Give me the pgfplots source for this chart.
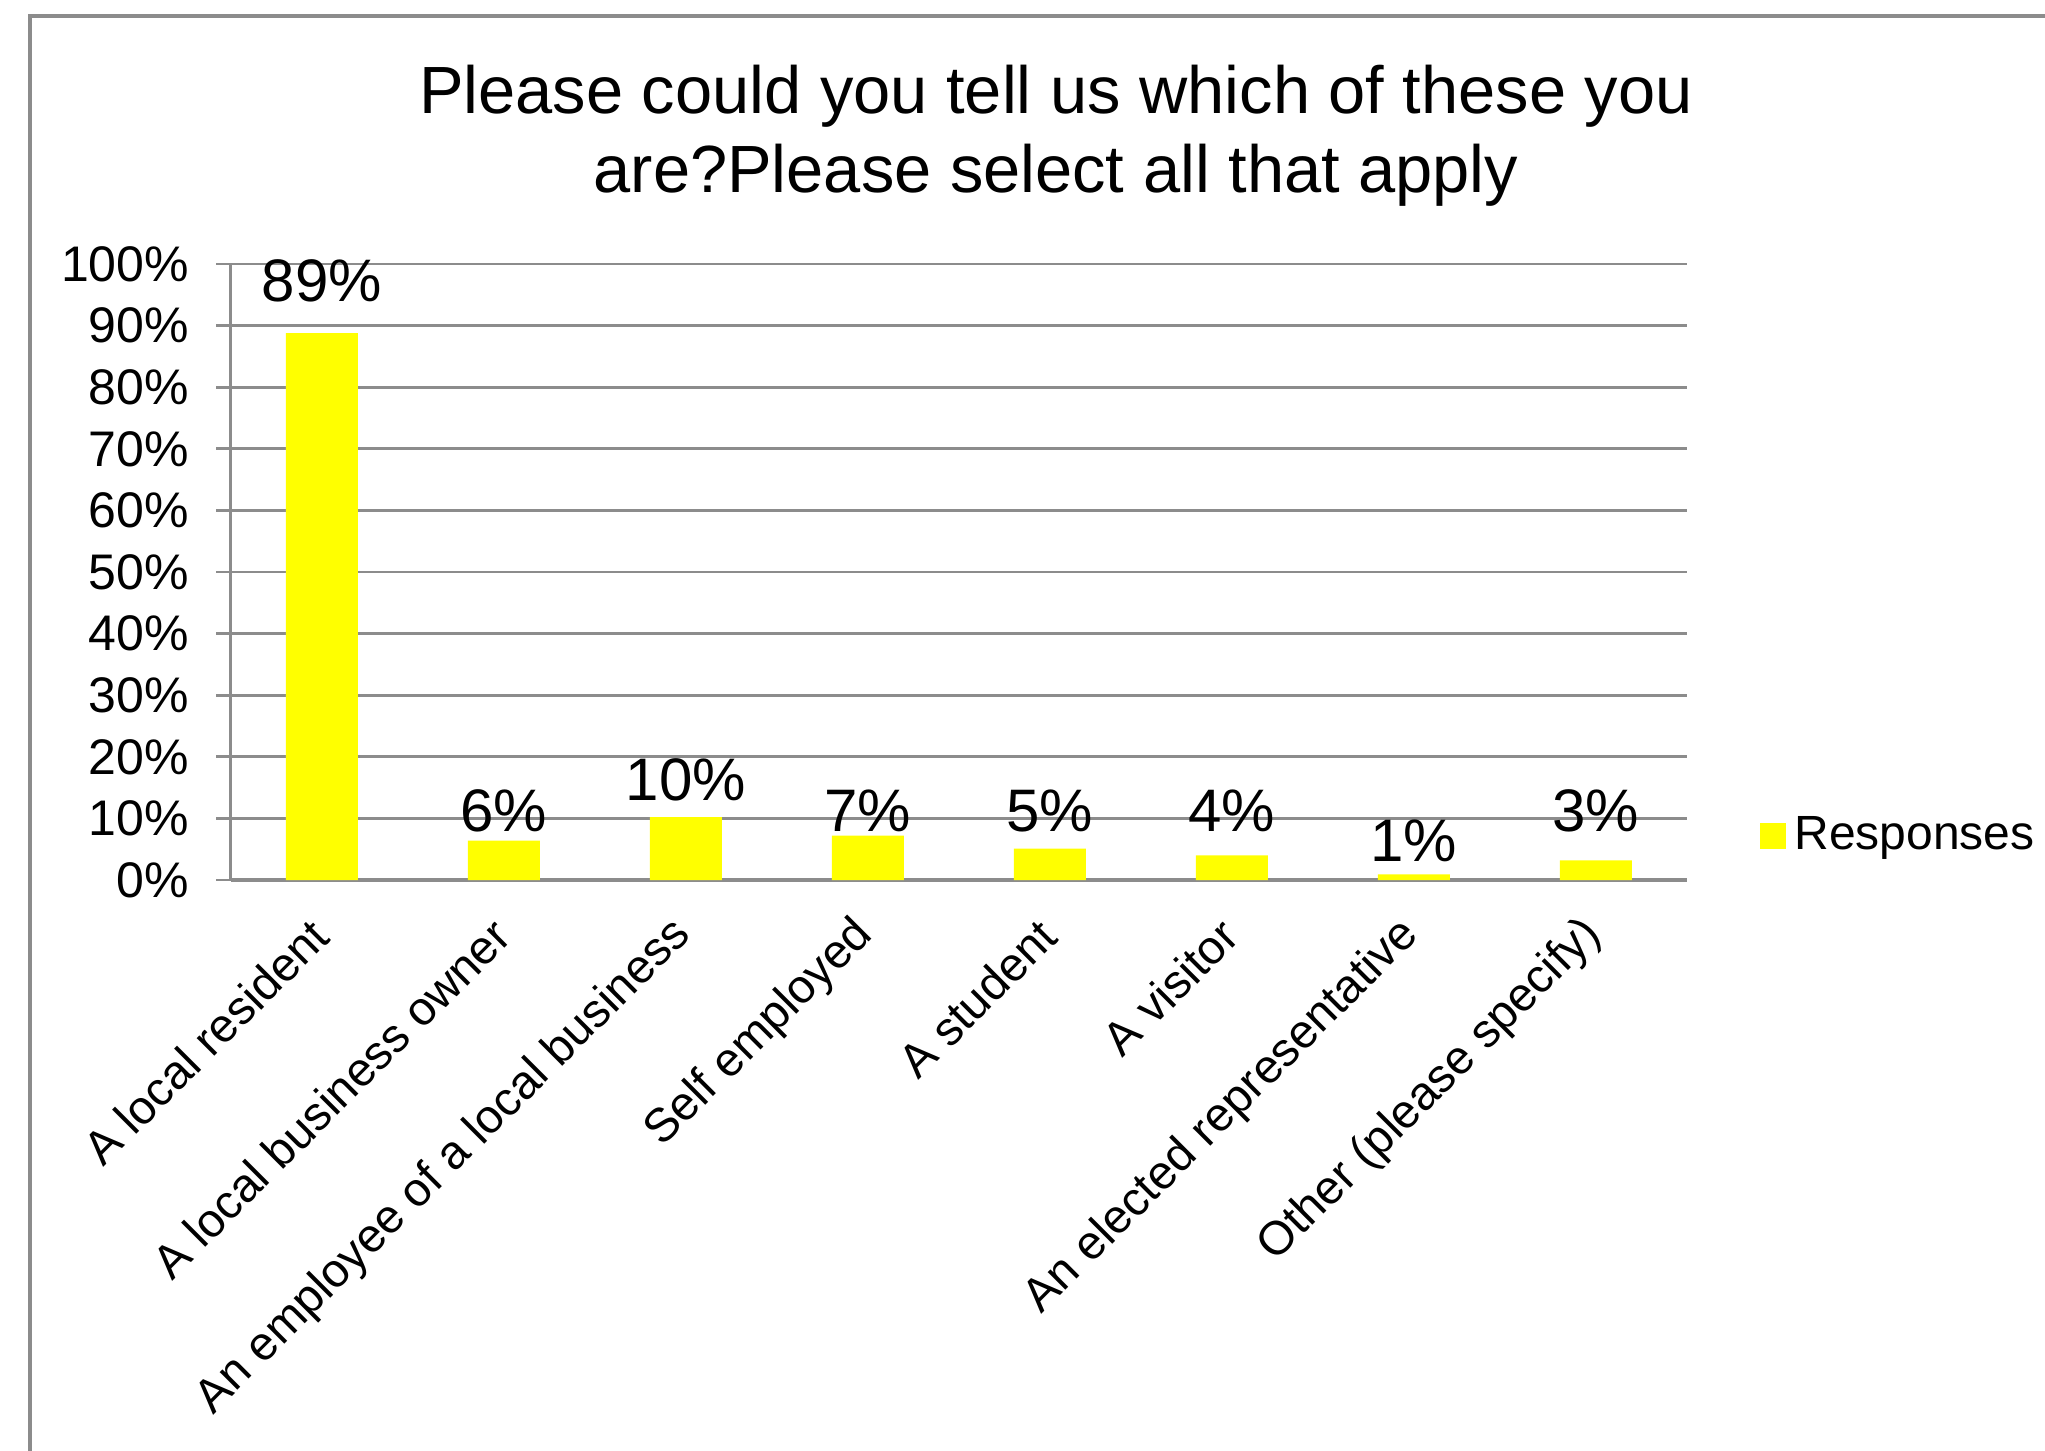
\documentclass[border=0pt]{standalone}
\usepackage{pgfplots}
\pgfplotsset{compat=1.18}
\usepackage{fontspec}
\setmainfont{Liberation Sans}
\definecolor{baryellow}{HTML}{FFFF00}
\definecolor{axisgray}{HTML}{8C8C8C}
\begin{document}
\begin{tikzpicture}
\useasboundingbox (0,0) rectangle (511.25pt,-362.5pt);
% outer chart frame, cut at right and bottom
\draw[axisgray, line width=0.8pt] (7.5pt,-370pt) -- (7.5pt,-4pt) -- (520pt,-4pt);
\node[align=center, font=\fontsize{16.7}{19.8}\selectfont] at (264pt,-33.9pt)
  {Please could you tell us which of these you\\are?Please select all that apply};
\begin{axis}[
    at={(57.7pt,-220pt)}, anchor=south west,
    scale only axis, width=364pt, height=154pt,
    ymin=0, ymax=100, xmin=-0.5, xmax=7.5,
    axis lines*=left,
    axis line style={axisgray, line width=0.8pt},
    ymajorgrids, major grid style={axisgray, line width=0.7pt},
    tick align=outside,
    major tick length=3.6pt,
    minor tick length=4pt,
    ytick={0,10,...,100},
    yticklabel={\pgfmathprintnumber[assume math mode=true]{\tick}\%},
    yticklabel style={xshift=-3.3pt, font=\fontsize{12.5}{15}\selectfont},
    ytick style={axisgray, line width=0.7pt},
    xtick={0,...,7},
    xtick style={draw=none},
    minor xtick={-0.5,0.5,...,7.5},
    minor tick style={axisgray, line width=0.7pt},
    xticklabels={A local resident, A local business owner, An employee of a local business,
        Self employed, A student, A visitor, An elected representative, Other (please specify)},
    xticklabel style={xshift=0.3pt, yshift=-7.5pt, rotate=45, anchor=east, inner sep=1pt,
        font=\fontsize{11.8}{14}\selectfont},
    legend style={at={(axis description cs:1.05,0.0715)}, anchor=west, draw=none, fill=none,
        font=\fontsize{12}{14}\selectfont, inner sep=0pt},
    legend image code/.code={\fill[baryellow] (0pt,-3.25pt) rectangle (6.5pt,3.25pt);},
]
\addplot[ybar, bar width=18pt, bar shift=0pt, fill=baryellow, draw=none] coordinates {
    (0,88.8) (1,6.4) (2,10.2) (3,7.2) (4,5.1) (5,4.0) (6,0.9) (7,3.2)
};
\addlegendentry{Responses}
% data labels, placed where the reference puts them
\addplot[forget plot, draw=none, mark=none, nodes near coords, point meta=explicit symbolic,
    nodes near coords style={anchor=center, font=\fontsize{15}{17}\selectfont}] coordinates {
    (0,97.2)[89\%] (1,11.2)[6\%] (2,16.3)[10\%] (3,11.2)[7\%]
    (4,11.2)[5\%] (5,11.2)[4\%] (6,6.4)[1\%] (7,11.2)[3\%]
};
\end{axis}
\end{tikzpicture}
\end{document}
